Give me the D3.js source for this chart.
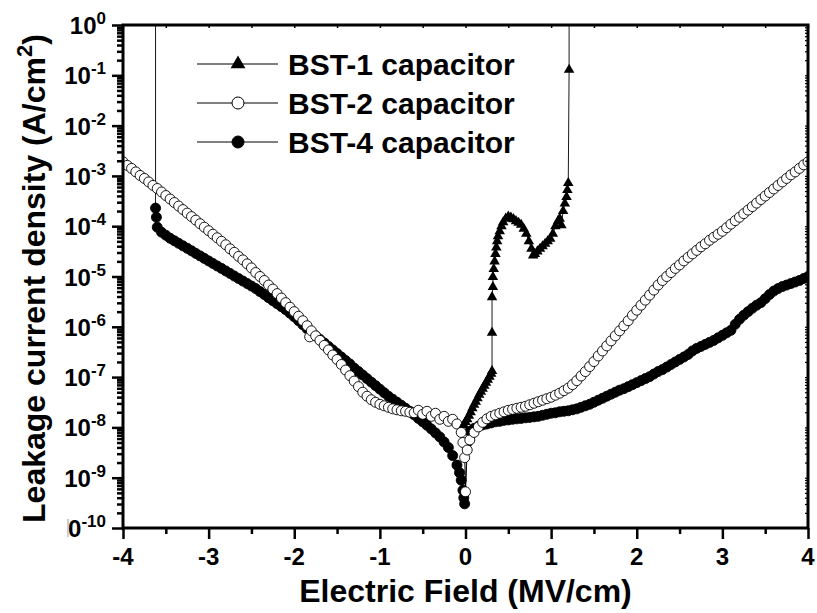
<!DOCTYPE html>
<html>
<head>
<meta charset="utf-8">
<script src="https://cdn.jsdelivr.net/npm/d3@7"></script>
<style>
  body { margin: 0; background: #fff; }
  svg { display: block; }
  text { font-family: Arial, "Liberation Sans", sans-serif; font-weight: bold; fill: #000; }
</style>
</head>
<body>
<svg id="chart" width="817" height="613"></svg>
<script>
// ---- data: [electric field (MV/cm), leakage current density (A/cm^2)] ----
const seriesNames = ["BST-1 capacitor", "BST-2 capacitor", "BST-4 capacitor"];

const bst1 = [
  [-0.02,1.12e-8],[0.00,1.29e-8],[0.02,1.45e-8],[0.04,1.70e-8],[0.06,2.00e-8],[0.08,2.40e-8],
  [0.10,2.82e-8],[0.12,3.24e-8],[0.14,3.80e-8],[0.16,4.47e-8],[0.18,5.13e-8],[0.20,5.89e-8],
  [0.22,6.76e-8],[0.24,7.76e-8],[0.26,8.91e-8],[0.28,1.02e-7],[0.30,1.17e-7],[0.31,1.32e-7],
  [0.31,7.59e-7],[0.31,3.89e-6],[0.32,6.17e-6],[0.32,9.77e-6],
  [0.33,1.41e-5],[0.34,2.00e-5],[0.35,2.82e-5],[0.36,3.80e-5],[0.37,5.01e-5],[0.38,6.31e-5],
  [0.40,7.94e-5],[0.42,1.00e-4],[0.44,1.20e-4],[0.47,1.41e-4],[0.50,1.55e-4],[0.53,1.48e-4],
  [0.56,1.38e-4],[0.59,1.26e-4],[0.62,1.17e-4],[0.65,1.07e-4],[0.68,8.91e-5],[0.71,7.08e-5],
  [0.74,5.01e-5],[0.77,3.55e-5],[0.79,2.63e-5],[0.81,2.82e-5],[0.84,3.16e-5],[0.87,3.55e-5],
  [0.90,3.98e-5],[0.93,4.47e-5],[0.96,5.01e-5],[0.99,5.62e-5],[1.02,7.08e-5],[1.05,1.00e-4],
  [1.08,1.26e-4],[1.10,1.41e-4],[1.12,1.05e-4],[1.14,2.00e-4],[1.16,2.82e-4],[1.18,3.80e-4],
  [1.19,5.25e-4],[1.20,7.24e-4],[1.21,1.29e-1],[1.21,5]
];

const bst2 = [
  [-4.00,1.91e-3],[-3.95,1.62e-3],[-3.90,1.41e-3],[-3.85,1.20e-3],[-3.80,1.02e-3],[-3.75,8.91e-4],
  [-3.70,7.59e-4],[-3.65,6.46e-4],[-3.60,5.62e-4],[-3.55,4.79e-4],[-3.50,4.07e-4],[-3.45,3.47e-4],
  [-3.40,2.95e-4],[-3.35,2.51e-4],[-3.30,2.14e-4],[-3.25,1.82e-4],[-3.20,1.55e-4],[-3.15,1.32e-4],
  [-3.10,1.12e-4],[-3.05,9.55e-5],[-3.00,8.13e-5],[-2.95,6.92e-5],[-2.90,5.89e-5],[-2.85,5.01e-5],
  [-2.80,4.27e-5],[-2.75,3.55e-5],[-2.70,3.02e-5],[-2.65,2.51e-5],[-2.60,2.14e-5],[-2.55,1.78e-5],
  [-2.50,1.48e-5],[-2.45,1.20e-5],[-2.40,1.00e-5],[-2.35,8.32e-6],[-2.30,6.76e-6],[-2.25,5.62e-6],
  [-2.20,4.57e-6],[-2.15,3.72e-6],[-2.10,3.02e-6],[-2.05,2.45e-6],[-2.00,2.00e-6],[-1.95,1.62e-6],
  [-1.90,1.32e-6],[-1.85,1.05e-6],[-1.82,6.31e-7],[-1.80,8.32e-7],[-1.75,6.61e-7],[-1.70,5.37e-7],
  [-1.65,4.27e-7],[-1.60,3.47e-7],[-1.55,2.75e-7],[-1.50,2.24e-7],[-1.45,1.78e-7],[-1.40,1.38e-7],
  [-1.35,1.07e-7],[-1.30,8.32e-8],[-1.25,6.46e-8],[-1.20,5.01e-8],[-1.15,4.17e-8],[-1.10,3.55e-8],
  [-1.05,3.16e-8],[-1.00,2.88e-8],[-0.95,2.69e-8],[-0.90,2.51e-8],[-0.85,2.34e-8],[-0.80,2.24e-8],
  [-0.75,2.14e-8],[-0.70,2.09e-8],[-0.65,2.00e-8],[-0.60,1.95e-8],[-0.55,2.19e-8],[-0.50,1.82e-8],
  [-0.45,2.09e-8],[-0.40,1.66e-8],[-0.35,1.91e-8],[-0.30,1.45e-8],[-0.25,1.66e-8],[-0.20,1.32e-8],
  [-0.15,1.45e-8],[-0.10,1.17e-8],[-0.05,7.94e-9],[-0.03,5.01e-9],[-0.01,2.51e-9],[0.00,5.25e-10],
  [0.02,3.55e-9],[0.05,5.62e-9],[0.10,7.94e-9],[0.15,1.02e-8],[0.20,1.26e-8],[0.25,1.48e-8],
  [0.30,1.66e-8],[0.35,1.78e-8],[0.40,1.91e-8],[0.45,2.04e-8],[0.50,2.19e-8],[0.55,2.29e-8],
  [0.60,2.40e-8],[0.65,2.51e-8],[0.70,2.63e-8],[0.75,2.82e-8],[0.80,3.02e-8],[0.85,3.24e-8],
  [0.90,3.47e-8],[0.95,3.72e-8],[1.00,3.98e-8],[1.05,4.37e-8],[1.10,4.79e-8],[1.15,5.37e-8],
  [1.20,6.03e-8],[1.25,7.08e-8],[1.30,8.51e-8],[1.35,1.05e-7],[1.40,1.29e-7],[1.45,1.62e-7],
  [1.50,2.04e-7],[1.55,2.63e-7],[1.60,3.31e-7],[1.65,4.17e-7],[1.70,5.25e-7],[1.75,6.61e-7],
  [1.80,8.32e-7],[1.85,1.05e-6],[1.90,1.32e-6],[1.95,1.70e-6],[2.00,2.14e-6],[2.05,2.69e-6],
  [2.10,3.39e-6],[2.15,4.27e-6],[2.20,5.37e-6],[2.25,6.76e-6],[2.30,8.32e-6],[2.35,1.00e-5],
  [2.40,1.20e-5],[2.45,1.45e-5],[2.50,1.70e-5],[2.55,2.04e-5],[2.60,2.40e-5],[2.65,2.82e-5],
  [2.70,3.31e-5],[2.75,3.89e-5],[2.80,4.47e-5],[2.85,5.25e-5],[2.90,6.03e-5],[2.95,6.92e-5],
  [3.00,7.94e-5],[3.05,9.33e-5],[3.10,1.10e-4],[3.15,1.29e-4],[3.20,1.51e-4],[3.25,1.78e-4],
  [3.30,2.09e-4],[3.35,2.45e-4],[3.40,2.88e-4],[3.45,3.39e-4],[3.50,3.98e-4],[3.55,4.68e-4],
  [3.60,5.50e-4],[3.65,6.46e-4],[3.70,7.59e-4],[3.75,8.91e-4],[3.80,1.05e-3],[3.85,1.20e-3],
  [3.90,1.41e-3],[3.95,1.66e-3],[4.00,1.91e-3]
];

const bst4 = [
  [-3.62,5],[-3.62,2.29e-4],[-3.61,1.51e-4],[-3.60,9.55e-5],[-3.55,7.59e-5],[-3.50,6.61e-5],
  [-3.45,5.75e-5],[-3.40,5.13e-5],[-3.35,4.57e-5],[-3.30,4.07e-5],[-3.25,3.63e-5],[-3.20,3.24e-5],
  [-3.15,2.88e-5],[-3.10,2.57e-5],[-3.05,2.29e-5],[-3.00,2.04e-5],[-2.95,1.82e-5],[-2.90,1.62e-5],
  [-2.85,1.45e-5],[-2.80,1.29e-5],[-2.75,1.15e-5],[-2.70,1.02e-5],[-2.65,9.12e-6],[-2.60,8.13e-6],
  [-2.55,7.24e-6],[-2.50,6.46e-6],[-2.45,5.75e-6],[-2.40,5.01e-6],[-2.35,4.37e-6],[-2.30,3.80e-6],
  [-2.25,3.31e-6],[-2.20,2.88e-6],[-2.15,2.51e-6],[-2.10,2.19e-6],[-2.05,1.86e-6],[-2.00,1.58e-6],
  [-1.95,1.32e-6],[-1.90,1.10e-6],[-1.85,9.12e-7],[-1.80,7.76e-7],[-1.75,6.61e-7],[-1.70,5.62e-7],
  [-1.65,4.79e-7],[-1.60,4.07e-7],[-1.55,3.47e-7],[-1.50,2.95e-7],[-1.45,2.51e-7],[-1.40,2.14e-7],
  [-1.35,1.82e-7],[-1.30,1.51e-7],[-1.25,1.29e-7],[-1.20,1.10e-7],[-1.15,9.33e-8],[-1.10,7.94e-8],
  [-1.05,6.76e-8],[-1.00,5.75e-8],[-0.95,4.90e-8],[-0.90,4.17e-8],[-0.85,3.63e-8],[-0.80,3.16e-8],
  [-0.75,2.75e-8],[-0.70,2.40e-8],[-0.65,2.09e-8],[-0.60,1.78e-8],[-0.55,1.51e-8],[-0.50,1.29e-8],
  [-0.45,1.10e-8],[-0.40,9.33e-9],[-0.35,7.76e-9],[-0.30,6.46e-9],[-0.25,5.13e-9],[-0.20,3.98e-9],
  [-0.15,2.75e-9],[-0.10,1.78e-9],[-0.07,1.26e-9],[-0.05,8.91e-10],[-0.03,5.62e-10],[-0.02,3.98e-10],
  [-0.01,3.02e-10],[0.02,5.01e-9],[0.05,8.32e-9],[0.10,9.55e-9],[0.15,1.05e-8],[0.20,1.12e-8],
  [0.25,1.17e-8],[0.30,1.23e-8],[0.35,1.29e-8],[0.40,1.32e-8],[0.45,1.38e-8],[0.50,1.41e-8],
  [0.55,1.45e-8],[0.60,1.48e-8],[0.65,1.51e-8],[0.70,1.55e-8],[0.75,1.58e-8],[0.80,1.62e-8],
  [0.85,1.66e-8],[0.90,1.74e-8],[0.95,1.82e-8],[1.00,1.91e-8],[1.05,1.95e-8],[1.10,2.04e-8],
  [1.15,2.09e-8],[1.20,2.14e-8],[1.25,2.24e-8],[1.30,2.34e-8],[1.35,2.51e-8],[1.40,2.69e-8],
  [1.45,2.88e-8],[1.50,3.16e-8],[1.55,3.47e-8],[1.60,3.80e-8],[1.65,4.17e-8],[1.70,4.57e-8],
  [1.75,5.01e-8],[1.80,5.50e-8],[1.85,5.89e-8],[1.90,6.46e-8],[1.95,7.08e-8],[2.00,7.76e-8],
  [2.05,8.51e-8],[2.10,9.33e-8],[2.15,1.02e-7],[2.20,1.15e-7],[2.25,1.29e-7],[2.30,1.41e-7],
  [2.35,1.58e-7],[2.40,1.78e-7],[2.45,2.00e-7],[2.50,2.24e-7],[2.55,2.51e-7],[2.60,2.82e-7],
  [2.65,3.31e-7],[2.70,3.72e-7],[2.75,4.07e-7],[2.80,4.47e-7],[2.85,4.90e-7],[2.90,5.37e-7],
  [2.95,6.03e-7],[3.00,6.76e-7],[3.05,7.59e-7],[3.10,8.51e-7],[3.15,1.12e-6],[3.20,1.41e-6],
  [3.25,1.70e-6],[3.30,2.00e-6],[3.35,2.34e-6],[3.40,2.69e-6],[3.45,3.02e-6],[3.50,3.63e-6],
  [3.55,4.37e-6],[3.60,5.13e-6],[3.65,5.75e-6],[3.70,6.31e-6],[3.75,6.76e-6],[3.80,7.24e-6],
  [3.85,7.76e-6],[3.90,8.32e-6],[3.95,9.12e-6],[4.00,1.00e-5]
];

// axis ticks
const xTickValues = [-4, -3, -2, -1, 0, 1, 2, 3, 4];
const xMinorTicks = [-3.5, -2.5, -1.5, -0.5, 0.5, 1.5, 2.5, 3.5];
const yExponents = [0, -1, -2, -3, -4, -5, -6, -7, -8, -9, -10];
const yMinorMultipliers = [2, 3, 4, 5, 6, 7, 8, 9];

// ---- layout ----
const svg = d3.select("#chart");
const plot = { left: 123, right: 808, top: 25, bottom: 528 };

const x = d3.scaleLinear().domain([-4, 4]).range([plot.left, plot.right]);
const y = d3.scaleLog().domain([1e-10, 1]).range([plot.bottom, plot.top]);

const yMajor = yExponents.map(e => Math.pow(10, e));
const yMinor = [];
yExponents.slice(0, -1).forEach(e => {
  yMinorMultipliers.forEach(m => yMinor.push(m * Math.pow(10, e - 1)));
});

svg.append("defs").append("clipPath").attr("id", "plotClip")
  .append("rect")
  .attr("x", plot.left).attr("y", plot.top)
  .attr("width", plot.right - plot.left).attr("height", plot.bottom - plot.top);

// ---- data layers ----
const layer = svg.append("g").attr("clip-path", "url(#plotClip)");
const line = d3.line().x(d => x(d[0])).y(d => y(d[1]));

const triangle = d3.symbol().type(d3.symbolTriangle).size(48);

function drawSeries(data, kind) {
  const g = layer.append("g");
  g.append("path").datum(data)
    .attr("d", line).attr("fill", "none")
    .attr("stroke", "#000").attr("stroke-width", 0.9);
  const pts = data.filter(d => d[1] <= 1);
  if (kind === "triangle") {
    g.selectAll("path.m").data(pts).join("path").attr("class", "m")
      .attr("d", triangle)
      .attr("transform", d => `translate(${x(d[0])},${y(d[1])})`)
      .attr("fill", "#000");
  } else {
    g.selectAll("circle").data(pts).join("circle")
      .attr("cx", d => x(d[0])).attr("cy", d => y(d[1]))
      .attr("r", 5)
      .attr("fill", kind === "open" ? "#fff" : "#000")
      .attr("stroke", "#000").attr("stroke-width", 0.9);
  }
}

drawSeries(bst4, "filled");
drawSeries(bst2, "open");
drawSeries(bst1, "triangle");

// ---- axes ----
function styleAxis(g, w) {
  g.select(".domain").remove();
  g.selectAll(".tick line").attr("stroke", "#000").attr("stroke-width", w);
}

svg.append("g").attr("transform", `translate(0,${plot.bottom})`)
  .call(d3.axisBottom(x).tickValues(xMinorTicks).tickSize(6).tickFormat(""))
  .call(g => styleAxis(g, 2.5));
svg.append("g").attr("transform", `translate(0,${plot.bottom})`)
  .call(d3.axisBottom(x).tickValues(xTickValues).tickSize(11).tickFormat(""))
  .call(g => styleAxis(g, 2.5));

svg.append("g").attr("transform", `translate(0,${plot.top})`)
  .call(d3.axisTop(x).tickValues(xTickValues.concat(xMinorTicks)).tickSize(-3).tickFormat(""))
  .call(g => styleAxis(g, 1.5));

svg.append("g").attr("transform", `translate(${plot.left},0)`)
  .call(d3.axisLeft(y).tickValues(yMinor).tickSize(6).tickFormat(""))
  .call(g => styleAxis(g, 2.5));
svg.append("g").attr("transform", `translate(${plot.left},0)`)
  .call(d3.axisLeft(y).tickValues(yMajor).tickSize(11).tickFormat(""))
  .call(g => styleAxis(g, 2.5));

svg.append("g").attr("transform", `translate(${plot.right},0)`)
  .call(d3.axisRight(y).tickValues(yMajor.concat(yMinor)).tickSize(-3).tickFormat(""))
  .call(g => styleAxis(g, 1.2));

// frame
svg.append("rect")
  .attr("x", plot.left).attr("y", plot.top)
  .attr("width", plot.right - plot.left).attr("height", plot.bottom - plot.top)
  .attr("fill", "none").attr("stroke", "#000").attr("stroke-width", 3);

// x tick labels
svg.append("g").selectAll("text").data(xTickValues).join("text")
  .attr("x", d => x(d)).attr("y", plot.bottom + 37)
  .attr("text-anchor", "middle")
  .attr("font-size", 24)
  .text(d => String(d));

// y tick labels (10 with superscript exponent)
svg.append("defs").append("clipPath").attr("id", "labelClip")
  .append("rect").attr("x", 69).attr("y", 0).attr("width", 60).attr("height", 613);

const yLab = svg.append("g").selectAll("text").data(yExponents).join("text")
  .attr("x", 106).attr("y", d => y(Math.pow(10, d)) + 9)
  .attr("text-anchor", "end")
  .attr("font-size", 24)
  .attr("clip-path", d => d === -10 ? "url(#labelClip)" : null);
yLab.append("tspan").text("10");
yLab.append("tspan").attr("dy", -10).attr("font-size", 17).text(d => String(d));

svg.append("line")
  .attr("x1", 68).attr("x2", 68)
  .attr("y1", y(1e-10) - 9).attr("y2", y(1e-10) + 9)
  .attr("stroke", "#999").attr("stroke-width", 1);

// axis titles
svg.append("text")
  .attr("x", (plot.left + plot.right) / 2).attr("y", 602)
  .attr("text-anchor", "middle").attr("font-size", 32)
  .text("Electric Field (MV/cm)");

const yTitle = svg.append("text")
  .attr("transform", `translate(45,${(plot.top + plot.bottom) / 2 + 2}) rotate(-90)`)
  .attr("text-anchor", "middle").attr("font-size", 32);
yTitle.append("tspan").text("Leakage current density (A/cm");
yTitle.append("tspan").attr("dy", -13).attr("font-size", 22).text("2");
yTitle.append("tspan").attr("dy", 13).text(")");

// ---- legend ----
const legendKinds = ["triangle", "open", "filled"];
const legend = svg.append("g");
seriesNames.forEach((name, i) => {
  const cy = 64 + i * 39;
  const g = legend.append("g");
  g.append("line").attr("x1", 197).attr("x2", 278).attr("y1", cy).attr("y2", cy)
    .attr("stroke", "#000").attr("stroke-width", 1);
  if (legendKinds[i] === "triangle") {
    g.append("path").attr("d", d3.symbol().type(d3.symbolTriangle).size(95)())
      .attr("transform", `translate(238,${cy})`).attr("fill", "#000");
  } else {
    g.append("circle").attr("cx", 238).attr("cy", cy).attr("r", 6)
      .attr("fill", legendKinds[i] === "open" ? "#fff" : "#000")
      .attr("stroke", "#000").attr("stroke-width", 1);
  }
  g.append("text").attr("x", 288).attr("y", cy + 11)
    .attr("font-size", 30).text(name);
});
</script>
</body>
</html>
